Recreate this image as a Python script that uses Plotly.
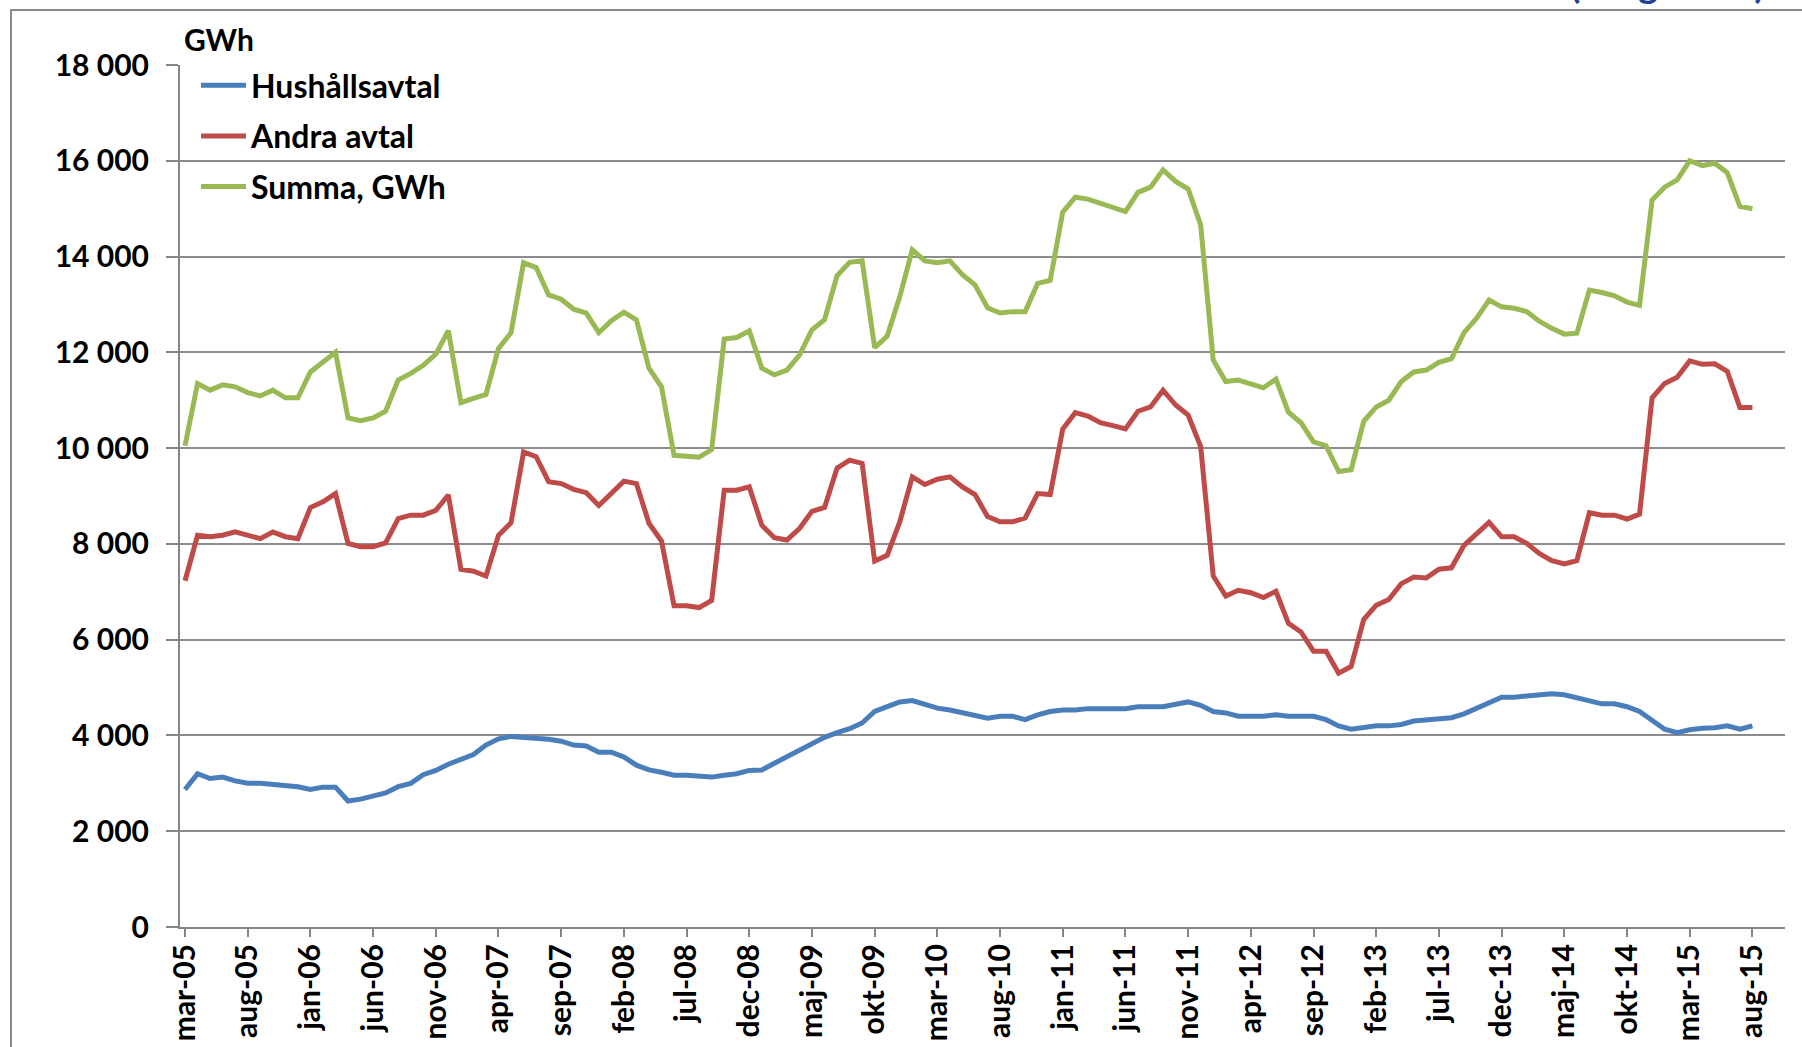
import plotly.graph_objects as go

month_names = ["jan", "feb", "mar", "apr", "maj", "jun", "jul", "aug", "sep", "okt", "nov", "dec"]
months = []
y, m = 2005, 2
while (y, m) <= (2015, 7):
    months.append(f"{month_names[m]}-{str(y)[2:]}")
    m += 1
    if m == 12:
        m = 0
        y += 1

hushall = [2870, 3200, 3100, 3130, 3050, 3000, 3000, 2970, 2940, 2930,
           2870, 2920, 2920, 2630, 2670, 2730, 2800, 2930, 3000, 3180,
           3270, 3400, 3500, 3600, 3800, 3930, 3980, 3960, 3950, 3920,
           3880, 3800, 3780, 3650, 3650, 3550, 3380, 3280, 3230, 3170,
           3170, 3160, 3130, 3170, 3200, 3270, 3280, 3420, 3560, 3700,
           3840, 3960, 4060, 4140, 4260, 4500, 4600, 4700, 4730, 4650,
           4570, 4530, 4470, 4400, 4360, 4400, 4400, 4330, 4430, 4500,
           4530, 4530, 4560, 4560, 4560, 4560, 4600, 4600, 4600, 4650,
           4700, 4630, 4500, 4470, 4400, 4400, 4400, 4430, 4400, 4400,
           4400, 4330, 4200, 4130, 4170, 4200, 4200, 4230, 4300, 4330,
           4360, 4370, 4450, 4560, 4680, 4800, 4800, 4830, 4860, 4870,
           4850, 4780, 4720, 4660, 4660, 4600, 4500, 4300, 4130, 4060,
           4120, 4150, 4160, 4200, 4130, 4200]

andra = [7230, 8180, 8150, 8180, 8250, 8180, 8110, 8250, 8150, 8110,
         8760, 8880, 9050, 8010, 7940, 7940, 8020, 8530, 8600, 8600,
         8700, 9020, 7470, 7430, 7330, 8180, 8440, 9920, 9820, 9300,
         9260, 9140, 9070, 8800, 9050, 9310, 9260, 8430, 8060, 6710,
         6710, 6670, 6820, 9120, 9120, 9190, 8390, 8130, 8080, 8320,
         8680, 8760, 9580, 9750, 9680, 7640, 7760, 8460, 9400, 9240,
         9350, 9400, 9190, 9030, 8570, 8460, 8460, 8540, 9050, 9030,
         10400, 10740, 10670, 10530, 10470, 10400, 10770, 10860, 11210, 10900,
         10690, 10030, 7330, 6910, 7030, 6980, 6880, 7010, 6340, 6160,
         5760, 5760, 5300, 5440, 6420, 6720, 6840, 7170, 7310, 7290,
         7470, 7500, 7970, 8220, 8450, 8150, 8150, 8010, 7800, 7650,
         7580, 7650, 8650, 8600, 8600, 8520, 8620, 11050, 11350, 11480,
         11820, 11750, 11760, 11600, 10850, 10850]

summa = [10050, 11350, 11210, 11320, 11280, 11160, 11090, 11210, 11050, 11050,
         11590, 11800, 12000, 10630, 10570, 10630, 10770, 11420, 11560, 11730,
         11960, 12450, 10950, 11040, 11120, 12080, 12410, 13870, 13770, 13200,
         13110, 12900, 12820, 12410, 12660, 12840, 12680, 11670, 11280, 9850,
         9840, 9810, 9970, 12280, 12310, 12450, 11670, 11530, 11630, 11940,
         12470, 12680, 13600, 13880, 13910, 12100, 12340, 13160, 14140, 13910,
         13870, 13910, 13620, 13410, 12930, 12820, 12850, 12850, 13440, 13500,
         14930, 15240, 15200, 15110, 15020, 14940, 15340, 15450, 15810, 15570,
         15410, 14660, 11840, 11390, 11420, 11350, 11260, 11440, 10750, 10530,
         10130, 10050, 9510, 9550, 10560, 10860, 11000, 11390, 11590, 11630,
         11790, 11870, 12410, 12710, 13090, 12950, 12920, 12850, 12650, 12500,
         12380, 12400, 13300, 13250, 13180, 13050, 12980, 15180, 15450, 15600,
         16000, 15900, 15950, 15750, 15050, 15000]

series_names = ["Hushållsavtal", "Andra avtal", "Summa, GWh"]
series_colors = ["#4A7EBB", "#BE4B48", "#98B954"]
y_ticks = [0, 2000, 4000, 6000, 8000, 10000, 12000, 14000, 16000, 18000]
x_tick_labels = months[::5]

FONT = "Lato"
W, H = 1802, 1047
L, R, T, B = 180, 17, 65, 120
pw, ph = W - L - R, H - T - B

fig = go.Figure()
for i, (name, vals) in enumerate(zip(series_names, [hushall, andra, summa])):
    fig.add_trace(go.Scatter(
        x=months, y=vals, mode="lines", name=name,
        line=dict(color=series_colors[i], width=5),
        legendgroup=f"g{i}",
    ))

def px_x(px):
    return (px - L) / pw

def px_y(py):
    return (H - B - py) / ph

TICKFONT = dict(family=FONT, size=30, color="black", weight="bold")

fig.update_layout(
    width=W, height=H,
    margin=dict(l=L, r=R, t=T, b=B, pad=0, autoexpand=False),
    paper_bgcolor="white", plot_bgcolor="white",
    separators=", ",
    font=dict(family=FONT, size=30, color="black", weight="bold"),
    showlegend=True,
    legend=dict(
        x=px_x(196), y=px_y(58), xanchor="left", yanchor="top",
        bgcolor="rgba(0,0,0,0)", borderwidth=0,
        font=dict(family=FONT, size=32, color="black", weight="bold"),
        tracegroupgap=6, itemwidth=45,
    ),
    xaxis=dict(
        type="category", range=[-0.4, 127.6], automargin=False,
        tickmode="array", tickvals=x_tick_labels, ticktext=x_tick_labels,
        tickangle=-90, ticks="outside", ticklen=8, tickcolor="#868686", tickwidth=2,
        ticklabelstandoff=-5,
        showline=True, linecolor="#868686", linewidth=2,
        showgrid=False, zeroline=False,
        tickfont=TICKFONT,
    ),
    yaxis=dict(
        range=[0, 18000], tickmode="array", tickvals=y_ticks, automargin=False,
        tickformat=",d",
        ticks="outside", ticklen=12, tickcolor="#868686", tickwidth=2,
        showline=True, linecolor="#868686", linewidth=2,
        showgrid=True, gridcolor="#8c8c8c", gridwidth=2, zeroline=False,
        ticklabelstandoff=11,
        tickfont=TICKFONT,
    ),
    annotations=[
        dict(text="GWh", xref="paper", yref="paper", x=px_x(182), y=px_y(39),
             xanchor="left", yanchor="middle", showarrow=False,
             font=dict(family=FONT, size=30, color="black", weight="bold")),
        dict(text="(Diagram 2)", xref="paper", yref="paper", x=px_x(1568), y=px_y(-17),
             xanchor="left", yanchor="middle", showarrow=False,
             font=dict(family=FONT, size=38, color="#1F3F9F", weight="bold")),
    ],
    shapes=[
        dict(type="rect", xref="paper", yref="paper",
             x0=px_x(11), x1=px_x(1900), y0=px_y(1100), y1=px_y(10),
             line=dict(color="#898989", width=2), fillcolor="rgba(0,0,0,0)", layer="below"),
    ],
)

fig.write_html("out.html", config={"displayModeBar": False},
               post_script="document.body.style.margin='0';document.body.style.overflow='hidden';")
